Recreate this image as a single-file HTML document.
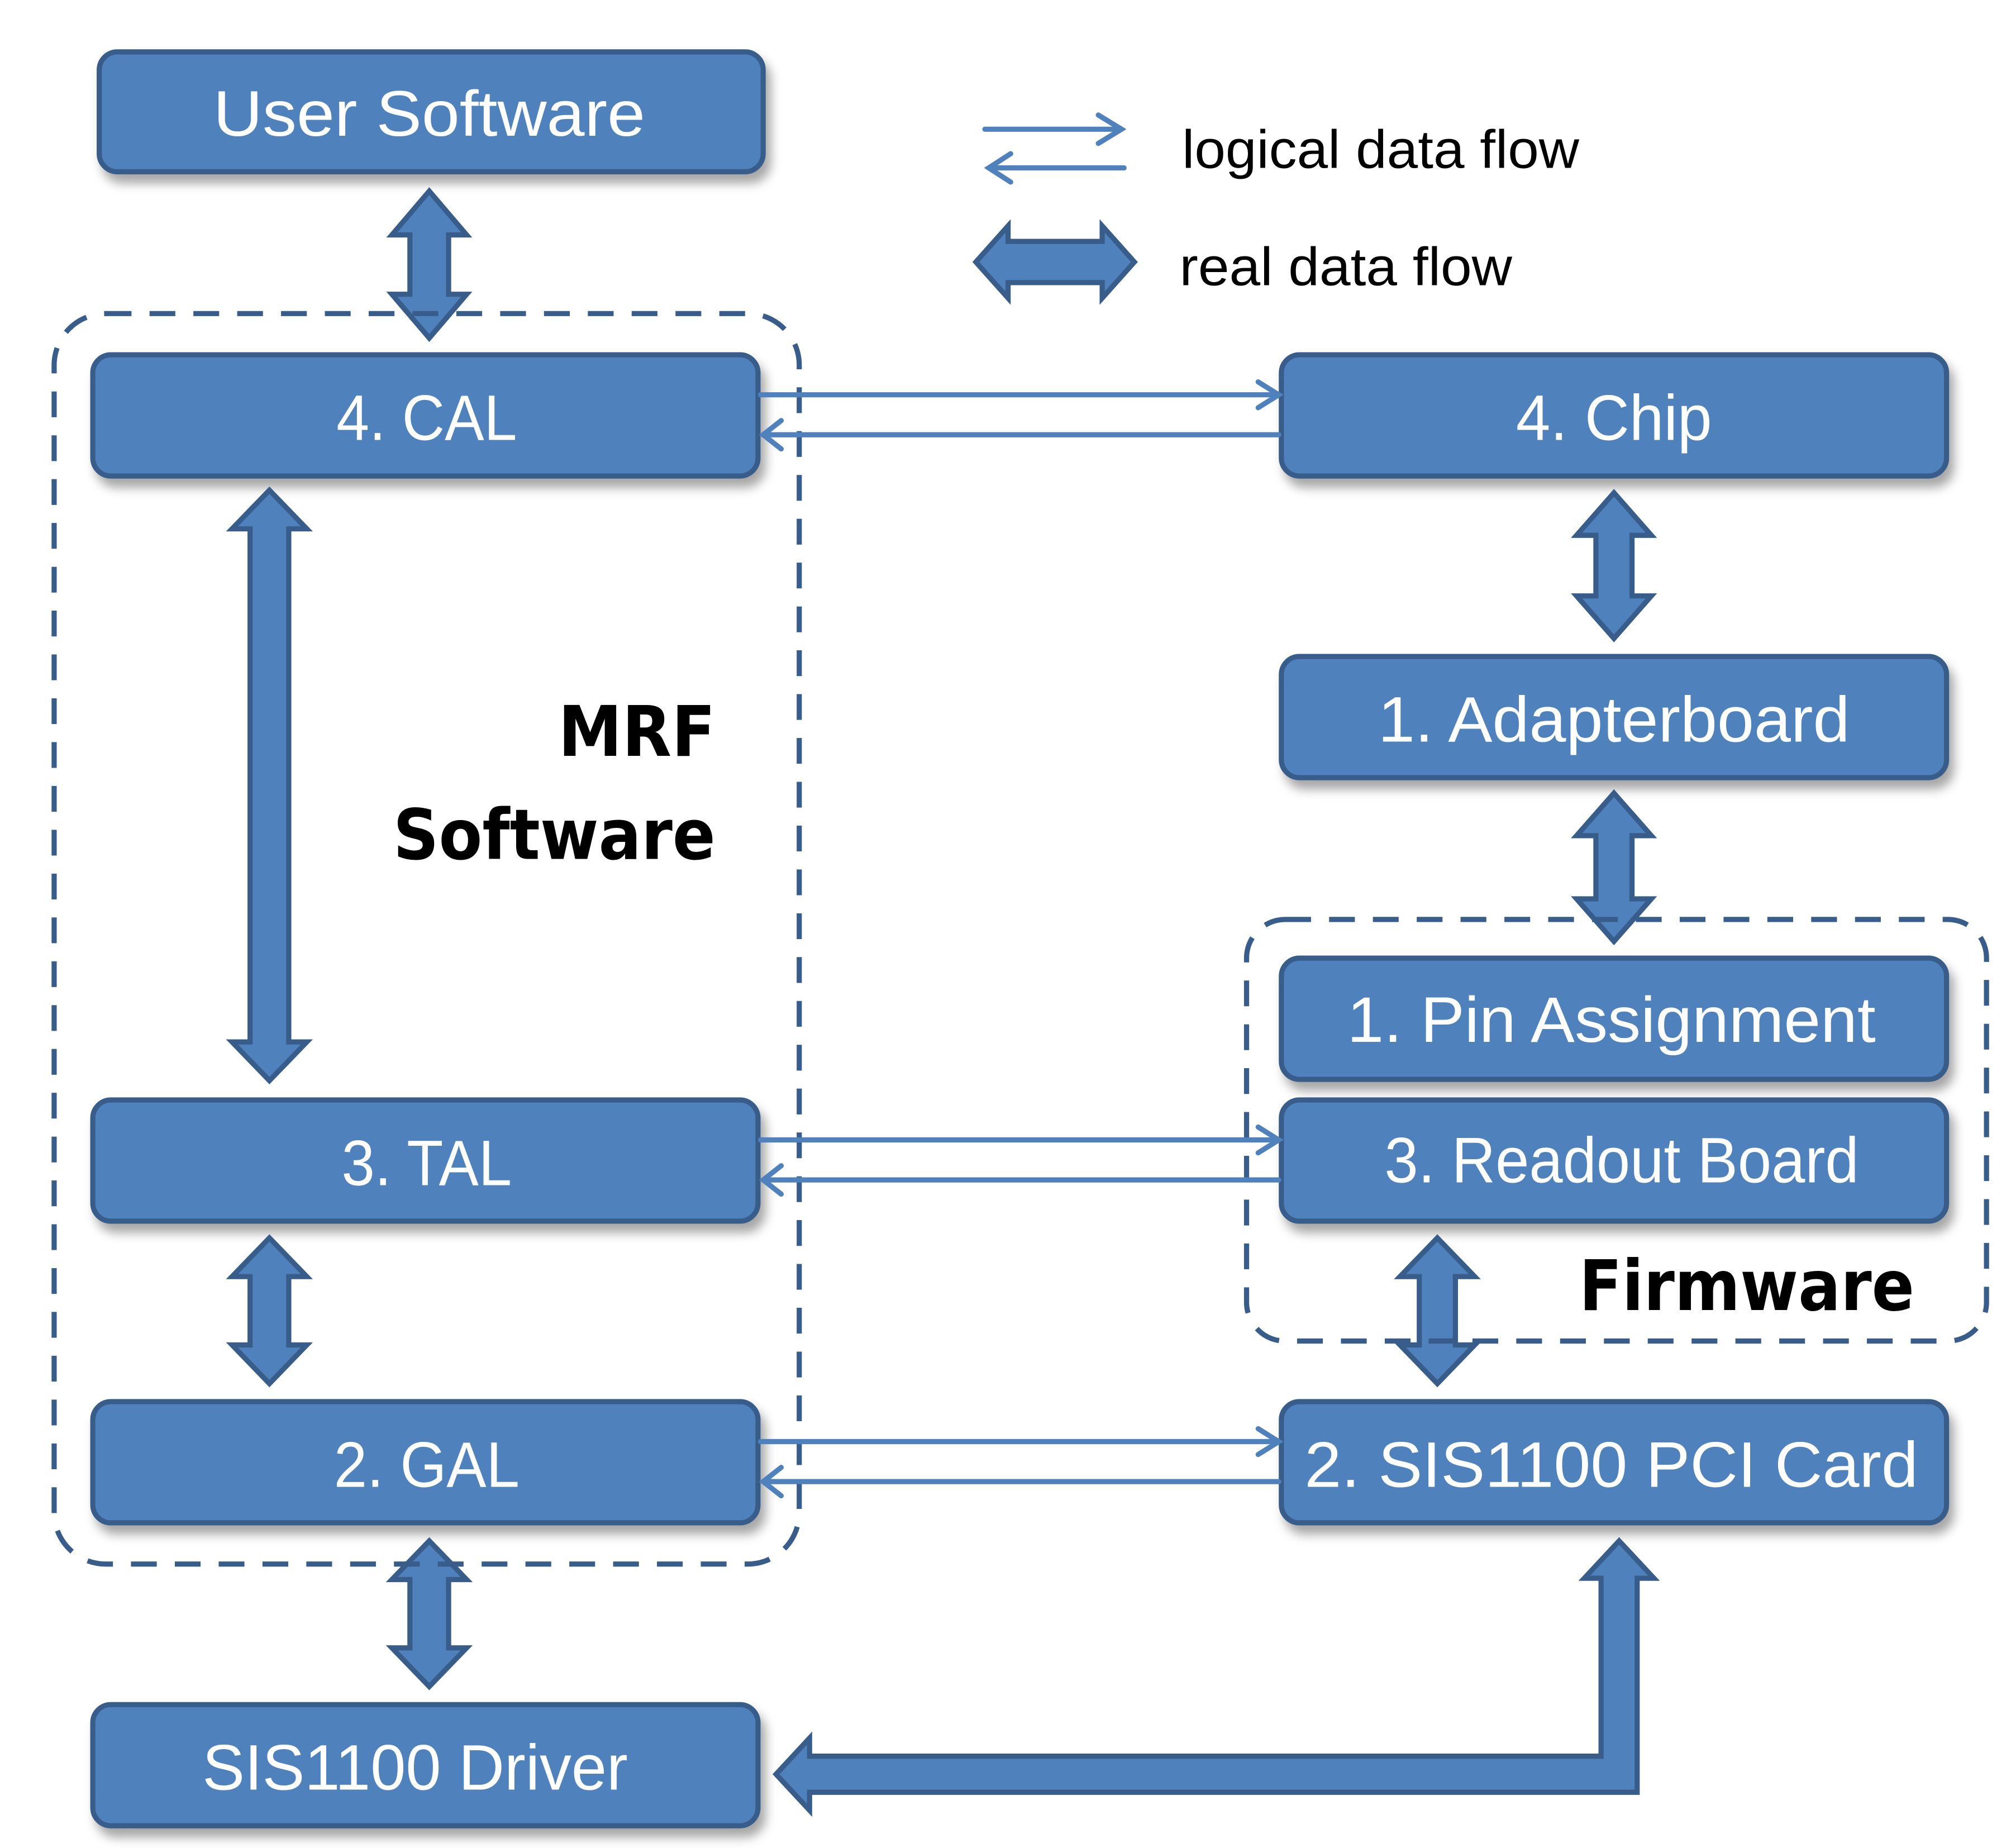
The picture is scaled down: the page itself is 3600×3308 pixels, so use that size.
<!DOCTYPE html>
<html><head><meta charset="utf-8"><style>
html,body{margin:0;padding:0;background:#fff;}
svg{display:block;}
.bt{font-family:"Liberation Sans",sans-serif;fill:#fff;font-size:50px;text-anchor:middle;}
.lg{font-family:"Liberation Sans",sans-serif;fill:#000;font-size:42px;}
.bold{font-family:"DejaVu Sans",sans-serif;font-weight:bold;fill:#000;font-size:54px;text-anchor:end;}
</style></head><body>
<svg width="3600" height="3308" viewBox="0 0 1560 1433" xmlns="http://www.w3.org/2000/svg">
<defs>
<filter id="sh" x="-5%" y="-20%" width="115%" height="150%"><feDropShadow dx="4" dy="7" stdDeviation="4" flood-color="#000" flood-opacity="0.35"/></filter>
</defs>
<g fill="#4f81bd" stroke="#385d8a" stroke-width="4">
<g filter="url(#sh)">
<rect x="77" y="40" width="515" height="93" rx="14"/>
<rect x="72" y="275" width="516" height="94" rx="14"/>
<rect x="994" y="275" width="516" height="94" rx="14"/>
<rect x="994" y="509" width="516" height="94" rx="14"/>
<rect x="994" y="743" width="516" height="94" rx="14"/>
<rect x="994" y="853" width="516" height="94" rx="14"/>
<rect x="72" y="853" width="516" height="94" rx="14"/>
<rect x="72" y="1087" width="516" height="94" rx="14"/>
<rect x="994" y="1087" width="516" height="94" rx="14"/>
<rect x="72" y="1322" width="516" height="94" rx="14"/>
</g>
<polygon points="333,148 362,182 348,182 348,228 362,228 333,262 304,228 318,228 318,182 304,182"/>
<polygon points="209,380 238,410 224,410 224,808 238,808 209,838 180,808 194,808 194,410 180,410"/>
<polygon points="209,960 238,990 224,990 224,1043 238,1043 209,1073 180,1043 194,1043 194,990 180,990"/>
<polygon points="333,1195 362,1225 348,1225 348,1278 362,1278 333,1308 304,1278 318,1278 318,1225 304,1225"/>
<polygon points="1252,382 1281,415 1266,415 1266,462 1281,462 1252,495 1223,462 1238,462 1238,415 1223,415"/>
<polygon points="1252,615 1281,648 1266,648 1266,697 1281,697 1252,730 1223,697 1238,697 1238,648 1223,648"/>
<polygon points="1115,960 1144,990 1129,990 1129,1043 1144,1043 1115,1073 1086,1043 1101,1043 1101,990 1086,990"/>
<polygon points="757,203 782,175 782,187 855,187 855,175 880,203 855,231 855,219 782,219 782,231"/>
<polygon points="1256,1195 1283,1224 1270,1224 1270,1390 628,1390 628,1404 602,1376 628,1348 628,1362 1242,1362 1242,1224 1229,1224"/>
</g>
<g fill="none" stroke="#385d8a" stroke-width="4" stroke-dasharray="20,14">
<rect x="42" y="243" width="578" height="970" rx="40"/>
<rect x="967" y="713" width="574" height="327" rx="30"/>
</g>
<g fill="none" stroke="#4f81bd" stroke-width="4" stroke-linecap="round">
<line x1="590" y1="306" x2="992" y2="306"/><polyline points="976,296 992,306 976,316"/>
<line x1="992" y1="337" x2="592" y2="337"/><polyline points="606,326 592,337 606,348"/>
<line x1="590" y1="884" x2="992" y2="884"/><polyline points="976,874 992,884 976,894"/>
<line x1="992" y1="915" x2="592" y2="915"/><polyline points="606,904 592,915 606,926"/>
<line x1="590" y1="1118" x2="992" y2="1118"/><polyline points="976,1108 992,1118 976,1128"/>
<line x1="992" y1="1149" x2="592" y2="1149"/><polyline points="606,1138 592,1149 606,1160"/>
<line x1="764" y1="100" x2="870" y2="100"/><polyline points="852,89 870,100 852,111"/>
<line x1="872" y1="130" x2="767" y2="130"/><polyline points="784,119 767,130 784,141"/>
</g>
<text class="bt" x="333" y="105" textLength="335" lengthAdjust="spacingAndGlyphs">User Software</text>
<text class="bt" x="331" y="341" textLength="140" lengthAdjust="spacingAndGlyphs">4. CAL</text>
<text class="bt" x="1252" y="341" textLength="152" lengthAdjust="spacingAndGlyphs">4. Chip</text>
<text class="bt" x="1252" y="575" textLength="366" lengthAdjust="spacingAndGlyphs">1. Adapterboard</text>
<text class="bt" x="1250" y="808" textLength="410" lengthAdjust="spacingAndGlyphs">1. Pin Assignment</text>
<text class="bt" x="1258" y="917" textLength="368" lengthAdjust="spacingAndGlyphs">3. Readout Board</text>
<text class="bt" x="331" y="919" textLength="132" lengthAdjust="spacingAndGlyphs">3. TAL</text>
<text class="bt" x="331" y="1153" textLength="144" lengthAdjust="spacingAndGlyphs">2. GAL</text>
<text class="bt" x="1250" y="1153" textLength="476" lengthAdjust="spacingAndGlyphs">2. SIS1100 PCI Card</text>
<text class="bt" x="322" y="1388" textLength="330" lengthAdjust="spacingAndGlyphs">SIS1100 Driver</text>
<text class="lg" x="917" y="130" textLength="308" lengthAdjust="spacingAndGlyphs">logical data flow</text>
<text class="lg" x="915" y="221" textLength="258" lengthAdjust="spacingAndGlyphs">real data flow</text>
<text class="bold" x="555" y="586" textLength="122" lengthAdjust="spacingAndGlyphs">MRF</text>
<text class="bold" x="555" y="666" textLength="250" lengthAdjust="spacingAndGlyphs">Software</text>
<text class="bold" x="1485" y="1016" textLength="260" lengthAdjust="spacingAndGlyphs">Firmware</text>
</svg>
</body></html>
